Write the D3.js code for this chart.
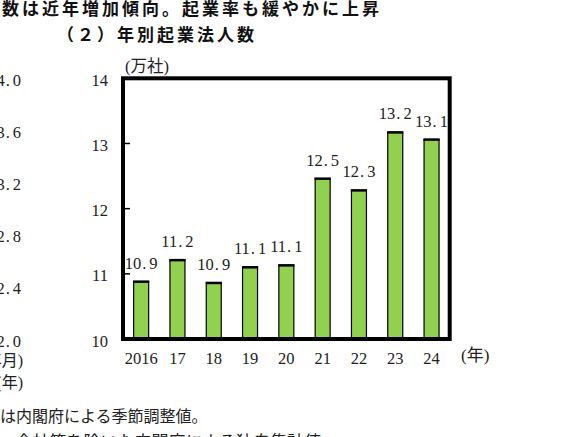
<!DOCTYPE html>
<html>
<head>
<meta charset="utf-8">
<script src="https://cdn.jsdelivr.net/npm/d3@7"></script>
<style>
  html, body { margin: 0; padding: 0; background: #fff; overflow: hidden; }
  svg { display: block; }
  .num { font-family: "Liberation Serif", "DejaVu Serif", serif; font-size: 16.5px; fill: #222; }
  .jp { font-family: "Liberation Serif", "Noto Sans CJK JP", serif; font-size: 16px; fill: #222; }
  .title { font-family: "Noto Sans CJK JP", sans-serif; font-size: 17px; font-weight: bold; letter-spacing: 3px; fill: #111; }
</style>
</head>
<body>
<div id="chart"></div>
<script>
// Data
const years = ["2016", "17", "18", "19", "20", "21", "22", "23", "24"];
const counts = [10.88, 11.21, 10.86, 11.10, 11.13, 12.46, 12.28, 13.17, 13.06];   // 万社
const yTicks = [10, 11, 12, 13, 14];
const leftTicks = [2.0, 2.4, 2.8, 3.2, 3.6, 4.0];   // axis of the neighbouring (cut-off) chart

const width = 577, height = 437;
const plot = { left: 123, right: 449.7, top: 78.3, bottom: 339 };

const svg = d3.select("#chart")
              .append("svg")
              .attr("width", width)
              .attr("height", height);

// Scales
const x = d3.scaleBand()
            .domain(years)
            .range([plot.left, plot.right])
            .paddingInner(0.587)
            .paddingOuter(0.2935);

const y = d3.scaleLinear()
            .domain([10, 14])
            .range([plot.bottom, plot.top]);

const yLeft = d3.scaleLinear()
                .domain([2.0, 4.0])
                .range([plot.bottom, plot.top]);

const fmt = d3.format(".1f");

// Mincho style numbers: the period takes a full digit cell
function wideNumber(sel, str) {
    const parts = str.split(".");
    sel.append("tspan").text(parts[0]);
    if (parts.length > 1) {
        sel.append("tspan").attr("dx", 1).text(".");
        sel.append("tspan").attr("dx", 3).text(parts[1]);
    }
}

// Headings
svg.append("text").attr("class", "title")
   .attr("x", 2).attr("y", 15)
   .text("数は近年増加傾向。起業率も緩やかに上昇");

svg.append("text").attr("class", "title")
   .attr("x", 57).attr("y", 41)
   .text("（２）年別起業法人数");

// Remains of the left chart's axis
svg.selectAll(".leftTick")
   .data(leftTicks)
   .enter()
   .append("text")
   .attr("class", "num leftTick")
   .attr("text-anchor", "end")
   .attr("x", 21)
   .attr("y", d => yLeft(d) + 7.5)
   .each(function(d) { wideNumber(d3.select(this), fmt(d)); });

svg.append("text").attr("class", "jp")
   .attr("text-anchor", "end")
   .attr("x", 23).attr("y", 366)
   .text("(年月)");

svg.append("text").attr("class", "jp")
   .attr("text-anchor", "end")
   .attr("x", 23).attr("y", 388)
   .text("(年)");

// Y axis labels and unit
svg.append("g")
   .attr("class", "num")
   .selectAll("text")
   .data(yTicks)
   .enter()
   .append("text")
   .attr("text-anchor", "end")
   .attr("x", 108)
   .attr("y", d => y(d) + 7.5)
   .text(d => d);

svg.append("text").attr("class", "jp")
   .attr("x", 125).attr("y", 72)
   .style("font-size", "16.5px")
   .text("(万社)");

// Inner tick marks
svg.selectAll(".tick")
   .data(yTicks.slice(1, -1))
   .enter()
   .append("line")
   .attr("x1", plot.left)
   .attr("x2", plot.left + 7)
   .attr("y1", d => y(d))
   .attr("y2", d => y(d))
   .attr("stroke", "#000")
   .attr("stroke-width", 1.5);

// Bars
const bars = svg.selectAll(".bar")
                .data(counts)
                .enter()
                .append("g")
                .attr("class", "bar");

bars.append("rect")
    .attr("x", (d, i) => x(years[i]))
    .attr("y", d => y(d))
    .attr("width", x.bandwidth())
    .attr("height", d => y(10) - y(d))
    .attr("fill", "#92d050")
    .attr("stroke", "#000")
    .attr("stroke-width", 1.2);

bars.append("line")
    .attr("x1", (d, i) => x(years[i]) - 0.6)
    .attr("x2", (d, i) => x(years[i]) + x.bandwidth() + 0.6)
    .attr("y1", d => y(d))
    .attr("y2", d => y(d))
    .attr("stroke", "#000")
    .attr("stroke-width", 2.5);

// Data labels
bars.append("text")
    .attr("class", "num")
    .attr("text-anchor", "middle")
    .attr("x", (d, i) => x(years[i]) + x.bandwidth() / 2)
    .attr("y", d => y(d) - 13)
    .each(function(d) { wideNumber(d3.select(this), fmt(d)); });

// Plot frame
svg.append("rect")
   .attr("x", plot.left)
   .attr("y", plot.top)
   .attr("width", plot.right - plot.left)
   .attr("height", plot.bottom - plot.top)
   .attr("fill", "none")
   .attr("stroke", "#000")
   .attr("stroke-width", 4);

// X axis labels
svg.append("g")
   .attr("class", "num")
   .selectAll("text")
   .data(years)
   .enter()
   .append("text")
   .attr("text-anchor", "middle")
   .attr("x", d => x(d) + x.bandwidth() / 2)
   .attr("y", 364)
   .text(d => d);

svg.append("text").attr("class", "jp")
   .attr("x", 461).attr("y", 361)
   .style("font-size", "17px")
   .text("(年)");

// Notes (cut off by the screenshot)
svg.append("text").attr("class", "jp")
   .attr("x", 0).attr("y", 422)
   .text("は内閣府による季節調整値。");

svg.append("text").attr("class", "jp")
   .attr("x", -10).attr("y", 448)
   .style("font-size", "17px")
   .text("）　会社等を除いた内閣府による独自集計値");
</script>
</body>
</html>
